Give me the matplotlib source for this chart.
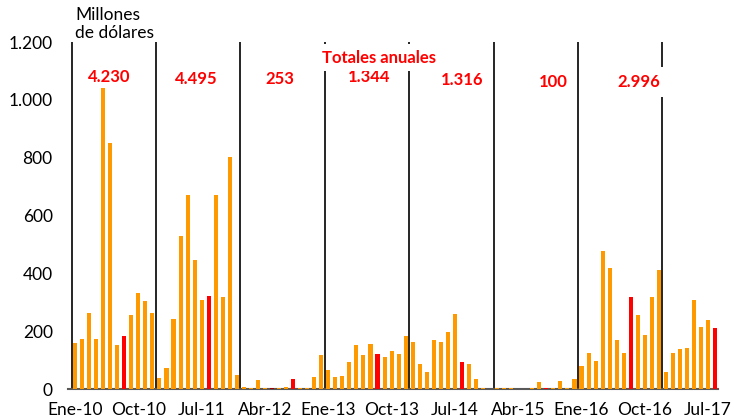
import matplotlib
matplotlib.use("Agg")
import matplotlib.pyplot as plt
import numpy as np

plt.rcParams['font.family'] = ['Lato', 'DejaVu Sans']

# montos mensuales, millones de dolares (ene-2010 .. ago-2017)
y2010 = [160, 174, 264, 174, 1041, 850, 153, 183, 256, 333, 305, 264]
y2011 = [37, 73, 242, 528, 671, 447, 309, 322, 671, 318, 804, 50]
y2012 = [8, 4, 32, 4, 5, 4, 7, 36, 4, 4, 41, 118]
y2013 = [64, 41, 45, 95, 153, 118, 157, 122, 112, 130, 122, 184]
y2014 = [161, 87, 60, 171, 161, 198, 260, 95, 87, 36, 5, 1]
y2015 = [4, 4, 4, 1, 1, 4, 23, 5, 4, 28, 4, 33]
y2016 = [78, 126, 98, 478, 420, 171, 126, 319, 256, 188, 318, 412]
y2017 = [58, 126, 140, 143, 309, 216, 237, 212]

totales = ['4.230', '4.495', '253', '1.344', '1.316', '100', '2.996']
tick_labels = ['Ene-10', 'Oct-10', 'Jul-11', 'Abr-12', 'Ene-13', 'Oct-13',
               'Jul-14', 'Abr-15', 'Ene-16', 'Oct-16', 'Jul-17']

valores = y2010 + y2011 + y2012 + y2013 + y2014 + y2015 + y2016 + y2017
n = len(valores)
idx = np.arange(n)

# agosto en rojo
colores = []
for i in idx:
    if i % 12 == 7:
        colores.append('#FF0000')
    elif i == 28:
        colores.append('#A00000')
    else:
        colores.append('#FF9900')

fig = plt.figure(figsize=(7.34, 4.2), dpi=100)
ax = fig.add_axes([68 / 734, 31 / 420, 650 / 734, 347 / 420])

ax.bar(idx, valores, width=0.58, color=colores, zorder=3)

# separadores anuales
for k in range(8):
    ax.plot([12 * k - 0.5, 12 * k - 0.5], [0, 1200], color='black', lw=1.2, zorder=2)

ax.set_xlim(-1, 91.4)
ax.set_ylim(0, 1200)

ax.set_yticks(np.arange(0, 1201, 200))
ax.set_yticklabels(['0', '200', '400', '600', '800', '1.000', '1.200'])
ax.set_xticks(np.arange(0, n, 9))
ax.set_xticklabels(tick_labels)
ax.tick_params(axis='both', length=0, labelsize=12.5, colors='black')
ax.tick_params(axis='y', pad=11)
ax.tick_params(axis='x', pad=9.5)

for s in ['top', 'right', 'left']:
    ax.spines[s].set_visible(False)
ax.spines['bottom'].set_color('#595959')
ax.spines['bottom'].set_linewidth(1.5)
ax.spines['bottom'].set_zorder(2)

# totales anuales
pos_x = [4.8, 17.2, 29.1, 41.8, 55.0, 68.0, 80.1]
pos_y = [1080, 1073, 1073, 1080, 1069, 1062, 1062]
for j, t in enumerate(totales):
    kw = {}
    if j == 6:
        kw['bbox'] = dict(facecolor='white', edgecolor='none', pad=5)
    ax.text(pos_x[j], pos_y[j], t, color='#FF0000', fontsize=12, fontweight='bold',
            ha='center', va='center', zorder=5, **kw)

ax.text(43.2, 1145, 'Totales anuales', color='#FF0000', fontsize=12, fontweight='bold',
        ha='center', va='center', zorder=5,
        bbox=dict(facecolor='white', edgecolor='none', pad=4))

fig.text(75 / 734, 1 - 7 / 420, 'Millones\nde dólares', fontsize=12.5,
         ha='left', va='top', linespacing=1.15)

fig.savefig('out.png', dpi=100)
